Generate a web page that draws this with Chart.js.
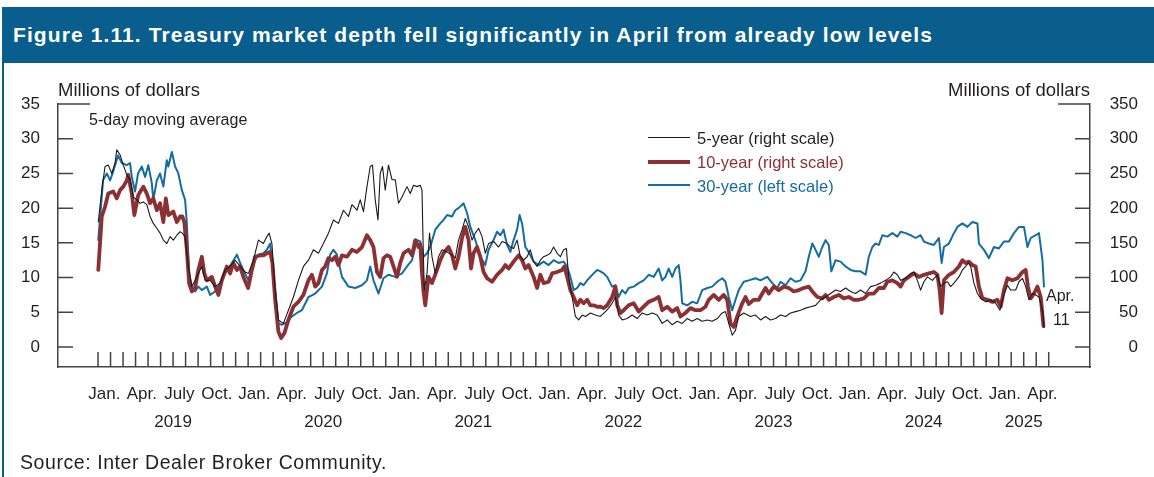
<!DOCTYPE html>
<html><head><meta charset="utf-8">
<script src="https://cdn.jsdelivr.net/npm/chart.js@4.4.1/dist/chart.umd.min.js"></script>
<style>
html,body{margin:0;padding:0;background:#fff;}
#wrap{position:relative;width:1154px;height:477px;overflow:hidden;background:#fff;font-family:"Liberation Sans",Arial,sans-serif;color:#231f20;}
#chart{position:absolute;left:0;top:0;}
#frame{position:absolute;left:2px;top:7px;width:2px;height:470px;background:#0a5e8e;}
#title{position:absolute;left:3px;top:7px;width:1151px;height:56px;background:#0a5e8e;color:#fff;font-weight:bold;font-size:21px;line-height:56px;white-space:nowrap;}
#title span{position:absolute;left:10px;}
.t{position:absolute;white-space:nowrap;line-height:20px;font-size:17px;}
.leg{position:absolute;left:648px;width:42px;}
#source{position:absolute;left:20px;top:451px;font-size:19.5px;line-height:22px;white-space:nowrap;}
</style></head>
<body>
<div id="wrap">
<canvas id="chart" width="1154" height="477"></canvas>
<div id="frame"></div>
<div id="title"><span id="titleText">Figure 1.11. Treasury market depth fell significantly in April from already low levels</span></div>
<div class="t" id="unitL" style="left:58px;top:80px;font-size:18.5px;">Millions of dollars</div>
<div class="t" id="unitR" style="right:64px;top:80px;font-size:18.5px;">Millions of dollars</div>
<div class="t" style="left:89px;top:110px;font-size:16px;">5-day moving average</div>
<div class="leg" style="top:137px;border-top:1.2px solid #1a1a1a;"></div>
<div class="leg" style="top:160px;border-top:4px solid #8c3034;"></div>
<div class="leg" style="top:184px;border-top:2px solid #146ca0;"></div>
<div class="t" style="left:697px;top:128px;font-size:16.5px;color:#231f20;">5-year (right scale)</div>
<div class="t" style="left:697px;top:152px;font-size:16.5px;color:#8c3034;">10-year (right scale)</div>
<div class="t" style="left:697px;top:175.5px;font-size:16.5px;color:#146ca0;">30-year (left scale)</div>
<div class="t" style="left:1046px;top:286px;font-size:16px;">Apr.</div>
<div class="t" style="left:1053px;top:309.5px;font-size:16px;">11</div>
<div id="source"><span id="sourceText">Source: Inter Dealer Broker Community.</span></div>
</div>
<script>
// x values: months since 1 Jan 2019
const quarterLabels = ['Jan.','Apr.','July','Oct.'];
const quarterPositions = [0.5,3.5,6.5,9.5,12.5,15.5,18.5,21.5,24.5,27.5,30.5,33.5,36.5,39.5,42.5,45.5,48.5,51.5,54.5,57.5,60.5,63.5,66.5,69.5,72.5,75.5];
const yearLabels = ['2019','2020','2021','2022','2023','2024','2025'];
const yearPositions = [6,18,30,42,54,66,74];
const monthTicks = [0,1,2,3,4,5,6,7,8,9,10,11,12,13,14,15,16,17,18,19,20,21,22,23,24,25,26,27,28,29,30,31,32,33,34,35,36,37,38,39,40,41,42,43,44,45,46,47,48,49,50,51,52,53,54,55,56,57,58,59,60,61,62,63,64,65,66,67,68,69,70,71,72,73,74,75,76];
const leftTicks = [0,5,10,15,20,25,30,35];
const rightTicks = [0,50,100,150,200,250,300,350];

// 30-year, left scale (millions of dollars)
const depth30y = [[0.02,15.4],[0.4,24.0],[0.7,25],[0.96,24],[1.2,25.2],[1.6,27.6],[1.9,26.5],[2.3,26.2],[2.56,26.5],[2.7,24.5],[2.96,22.4],[3.2,25],[3.5,26],[3.76,24.5],[4.02,26.2],[4.3,23.6],[4.42,21.2],[4.7,24],[4.96,25],[5.22,23.1],[5.5,26.9],[5.62,26],[5.9,28.1],[6.16,26],[6.42,25],[6.7,22.6],[6.96,21.2],[7.1,17.9],[7.28,10.6],[7.5,8.7],[7.76,8.0],[8.02,8.7],[8.3,8.2],[8.7,8.7],[8.96,7.5],[9.36,8.0],[9.76,9.2],[10.16,10.6],[10.7,12.1],[11.1,13.3],[11.36,12.1],[11.62,11.1],[12.02,9.6],[12.42,12.1],[12.82,13.3],[13.22,13.5],[13.5,14],[13.76,14.9],[13.9,12.5],[14.16,8.2],[14.42,3.4],[14.7,3.2],[15.1,3.6],[15.5,4.4],[15.9,4.9],[16.3,5.3],[16.82,7.2],[17.36,7.7],[17.9,8.7],[18.3,10.6],[18.56,13.3],[18.82,14],[19.1,13.3],[19.5,10.1],[20.02,8.7],[20.56,8.5],[21.1,8.9],[21.5,9.6],[21.76,11.6],[22.02,9.6],[22.42,7.7],[22.82,9.9],[23.22,10.4],[23.76,10.1],[24.3,10.6],[24.7,11.6],[25.1,12.5],[25.5,15.4],[25.76,15.2],[26.02,13],[26.3,13.5],[26.56,14.4],[26.96,16.9],[27.36,17.8],[27.62,18.3],[27.9,19],[28.3,18.8],[28.56,19.7],[28.82,20],[29.1,20.5],[29.22,20.7],[29.5,19.3],[29.76,17.3],[30.16,15.4],[30.56,13],[30.96,11.8],[31.22,14],[31.62,15.4],[31.9,16.6],[32.16,16.1],[32.42,16.9],[32.7,14.7],[32.96,13.7],[33.22,15.4],[33.5,16.9],[33.7,19],[33.9,17.8],[34.16,14.4],[34.42,13.7],[34.82,12.3],[35.22,11.8],[35.62,12.3],[36.02,11.8],[36.42,12.5],[36.82,12.1],[37.22,12.3],[37.5,11.6],[37.76,10.1],[38.02,8.2],[38.3,8.5],[38.56,9.2],[38.82,8.9],[39.1,9.6],[39.36,10.1],[39.62,10.6],[39.9,11.1],[40.16,10.9],[40.42,10.6],[40.7,10.1],[41.1,8.7],[41.36,8.9],[41.62,7.2],[41.9,8.2],[42.16,7.7],[42.42,8.5],[42.82,8.7],[43.22,9.2],[43.62,9.6],[44.02,10.4],[44.42,10.1],[44.82,11.3],[45.1,9.6],[45.36,10.1],[45.62,11.3],[45.9,10.1],[46.16,11.3],[46.42,11.8],[46.56,9.6],[46.7,6.3],[47.1,6.0],[47.5,6.5],[47.9,6.3],[48.3,8.2],[48.7,8.5],[49.1,8.7],[49.5,9.4],[49.9,9.9],[50.16,9.4],[50.42,7.2],[50.7,5.3],[50.96,6.8],[51.22,8.2],[51.62,9.4],[52.02,9.6],[52.56,9.9],[52.96,9.6],[53.5,10.1],[53.9,9.2],[54.3,8.5],[54.56,9.4],[54.96,8.9],[55.36,9.9],[55.76,9.4],[56.16,9.6],[56.56,10.9],[56.82,13],[57.1,14.9],[57.36,14],[57.62,13],[57.9,14.4],[58.16,15.4],[58.42,14.7],[58.62,10.9],[58.96,12.5],[59.36,12.3],[59.76,11.6],[60.16,11.1],[60.56,10.9],[60.96,10.9],[61.36,10.4],[61.62,13],[61.9,14.4],[62.16,14.9],[62.42,14.7],[62.7,16.1],[63.1,15.9],[63.5,16.4],[63.9,15.9],[64.16,16.6],[64.56,16.4],[64.96,16.1],[65.36,15.7],[65.76,16.1],[66.02,15.2],[66.42,14.9],[66.82,14.7],[67.22,15.7],[67.44,12.1],[67.62,14.4],[68.02,14.9],[68.42,16.4],[68.7,17.3],[69.1,17.8],[69.5,17.3],[69.9,18.0],[70.3,17.8],[70.42,14.9],[70.82,14],[71.22,12.8],[71.62,14.4],[72.02,14.2],[72.42,15.2],[72.82,15.2],[73.22,16.4],[73.62,17.3],[74.02,17.3],[74.3,14.4],[74.56,15.7],[74.96,16.1],[75.22,16.4],[75.5,12.5],[75.62,8.7]];

// 10-year, right scale (millions of dollars)
const depth10y = [[0.02,111],[0.3,188],[0.56,202],[0.82,221],[1.22,224],[1.5,214],[1.76,226],[2.02,231],[2.3,240],[2.42,248],[2.7,221],[2.9,190],[3.22,219],[3.62,231],[3.9,221],[4.16,207],[4.42,214],[4.7,197],[4.96,207],[5.22,180],[5.42,214],[5.62,190],[6.02,195],[6.3,180],[6.56,188],[6.74,188],[6.9,180],[7.1,140],[7.28,92],[7.5,80],[7.76,85],[8.02,111],[8.3,130],[8.5,106],[8.7,96],[9.1,101],[9.36,87],[9.62,75],[9.9,96],[10.3,116],[10.56,106],[10.82,121],[11.1,111],[11.36,116],[11.62,101],[12.0,85],[12.3,111],[12.56,130],[12.96,132],[13.22,132],[13.5,135],[13.76,137],[13.94,121],[14.16,68],[14.42,22],[14.64,13],[14.9,20],[15.22,39],[15.62,58],[16.02,65],[16.42,75],[16.82,96],[17.1,104],[17.36,87],[17.62,92],[17.9,111],[18.16,116],[18.42,128],[18.7,125],[18.96,130],[19.22,118],[19.5,132],[19.9,130],[20.3,140],[20.7,137],[21.1,144],[21.5,161],[21.76,154],[22.02,144],[22.3,108],[22.56,101],[22.82,128],[23.1,132],[23.36,130],[23.62,116],[23.9,101],[24.16,121],[24.42,135],[24.82,140],[25.1,132],[25.36,154],[25.62,144],[25.76,148],[25.9,106],[26.02,80],[26.16,60],[26.42,101],[26.7,92],[27.1,111],[27.36,125],[27.62,135],[28.02,144],[28.3,132],[28.56,113],[28.82,130],[29.1,157],[29.36,173],[29.62,154],[29.82,113],[30.02,135],[30.3,144],[30.56,130],[30.82,108],[31.1,99],[31.5,94],[31.9,104],[32.3,111],[32.56,118],[32.82,113],[33.22,123],[33.62,132],[33.9,125],[34.16,113],[34.42,118],[34.82,101],[35.1,85],[35.36,104],[35.62,92],[36.02,94],[36.3,106],[36.7,108],[37.1,111],[37.28,116],[37.5,101],[37.76,82],[38.02,72],[38.3,60],[38.56,68],[38.82,63],[39.1,68],[39.36,60],[39.62,60],[39.9,58],[40.16,58],[40.42,56],[40.7,60],[41.1,72],[41.36,87],[41.5,60],[41.76,49],[42.02,53],[42.42,60],[42.82,63],[43.22,51],[43.62,58],[44.02,65],[44.42,68],[44.82,72],[45.1,53],[45.5,58],[45.9,51],[46.3,56],[46.56,44],[46.96,49],[47.36,56],[47.76,53],[48.16,53],[48.56,58],[48.82,68],[49.22,75],[49.62,68],[50.02,75],[50.3,68],[50.56,34],[50.82,29],[51.1,44],[51.5,63],[51.76,72],[52.02,62],[52.42,68],[52.82,68],[53.1,77],[53.36,85],[53.62,77],[54.02,87],[54.42,82],[54.82,87],[55.22,85],[55.62,80],[56.02,82],[56.42,85],[56.82,87],[57.1,80],[57.5,72],[57.9,70],[58.16,75],[58.42,68],[58.82,72],[59.22,75],[59.62,70],[60.02,72],[60.42,68],[60.82,68],[61.22,70],[61.62,77],[62.02,77],[62.42,85],[62.82,85],[63.1,94],[63.5,96],[63.9,92],[64.16,87],[64.42,96],[64.82,101],[65.22,106],[65.62,101],[66.02,104],[66.42,106],[66.82,108],[67.1,104],[67.28,82],[67.44,49],[67.62,96],[68.02,104],[68.42,108],[68.82,116],[69.1,125],[69.36,121],[69.62,123],[69.9,118],[70.16,116],[70.42,87],[70.7,70],[71.1,68],[71.5,65],[71.9,68],[72.16,58],[72.42,82],[72.7,99],[73.1,96],[73.5,99],[73.9,108],[74.16,111],[74.34,87],[74.56,70],[74.82,77],[75.1,87],[75.36,72],[75.58,30]];

// 5-year, right scale (millions of dollars)
const depth5y = [[0.02,180],[0.3,226],[0.56,260],[0.82,262],[1.1,250],[1.36,265],[1.5,284],[1.76,277],[2.02,262],[2.3,248],[2.56,241],[2.82,216],[3.1,212],[3.36,207],[3.62,209],[3.9,205],[4.16,188],[4.42,178],[4.7,171],[4.96,164],[5.22,154],[5.5,149],[5.76,159],[6.02,154],[6.3,161],[6.56,166],[6.74,164],[6.96,159],[7.22,116],[7.5,87],[7.76,96],[8.02,106],[8.3,116],[8.56,96],[8.96,96],[9.36,87],[9.76,92],[10.16,111],[10.56,116],[10.96,125],[11.36,116],[11.76,108],[12.02,106],[12.42,125],[12.82,154],[13.22,149],[13.5,159],[13.68,164],[13.9,149],[14.16,82],[14.42,39],[14.82,34],[15.22,53],[15.62,72],[16.02,96],[16.42,116],[16.82,125],[17.22,140],[17.62,135],[18.02,149],[18.42,164],[18.82,183],[19.22,178],[19.62,197],[20.02,188],[20.3,205],[20.7,197],[20.96,212],[21.22,195],[21.5,231],[21.76,260],[21.94,262],[22.16,212],[22.38,183],[22.56,250],[22.74,260],[22.96,226],[23.22,262],[23.5,241],[23.76,241],[24.02,207],[24.3,216],[24.7,231],[24.96,221],[25.22,233],[25.5,231],[25.76,233],[25.9,226],[25.98,154],[26.08,82],[26.3,106],[26.5,164],[26.7,130],[26.96,106],[27.22,130],[27.5,140],[27.9,137],[28.3,132],[28.56,128],[28.82,154],[29.1,169],[29.36,185],[29.62,173],[29.9,154],[30.16,164],[30.42,171],[30.7,159],[30.96,135],[31.22,149],[31.62,152],[32.02,144],[32.3,152],[32.7,149],[32.96,144],[33.22,142],[33.5,154],[33.76,130],[34.02,125],[34.3,130],[34.56,140],[34.82,123],[35.1,116],[35.36,125],[35.62,130],[35.9,132],[36.16,135],[36.42,144],[36.7,135],[36.96,130],[37.22,140],[37.44,142],[37.62,101],[37.9,72],[38.16,44],[38.42,39],[38.7,46],[38.96,44],[39.36,49],[39.76,46],[40.16,44],[40.56,51],[40.82,56],[41.1,63],[41.36,72],[41.62,46],[41.9,39],[42.3,41],[42.7,46],[43.1,41],[43.5,49],[43.9,46],[44.3,49],[44.7,46],[45.1,34],[45.5,39],[45.9,32],[46.3,37],[46.7,34],[47.1,41],[47.5,37],[47.9,41],[48.3,37],[48.7,39],[49.1,37],[49.5,41],[49.9,49],[50.16,51],[50.42,34],[50.7,17],[50.96,24],[51.22,44],[51.62,49],[52.16,44],[52.56,46],[52.96,39],[53.36,44],[53.76,39],[54.16,41],[54.56,46],[54.96,44],[55.36,49],[55.76,51],[56.16,53],[56.56,56],[56.96,58],[57.36,60],[57.76,68],[58.16,72],[58.56,77],[58.96,82],[59.36,80],[59.76,85],[60.16,80],[60.56,77],[60.96,82],[61.36,77],[61.76,87],[62.16,89],[62.56,92],[62.96,96],[63.36,101],[63.62,108],[63.9,104],[64.16,96],[64.56,99],[64.96,106],[65.22,108],[65.5,96],[65.76,82],[66.02,94],[66.3,101],[66.7,96],[67.1,104],[67.36,87],[67.62,92],[67.9,94],[68.16,87],[68.42,92],[68.82,101],[69.1,111],[69.36,116],[69.58,121],[69.76,116],[70.02,92],[70.3,77],[70.56,70],[70.96,65],[71.36,68],[71.76,63],[72.1,53],[72.42,75],[72.7,89],[72.96,82],[73.36,82],[73.62,94],[73.9,99],[74.16,87],[74.42,68],[74.7,77],[74.96,75],[75.22,72],[75.5,53],[75.62,28]];

const COL_BLUE = '#146ca0', COL_RED = '#8c3034', COL_BLACK = '#1a1a1a', AXIS = '#444';
const tickFont = {family:'"Liberation Sans", Arial, sans-serif', size:17};
const toPts = arr => arr.map(p => ({x:p[0], y:p[1]}));

const inwardTicks = {
  id:'inwardTicks',
  beforeDatasetsDraw(chart){
    const {ctx, chartArea:a, scales} = chart;
    ctx.save();
    ctx.strokeStyle = AXIS; ctx.lineWidth = 1.5;
    ctx.beginPath();
    monthTicks.forEach(m => { const px = scales.x.getPixelForValue(m); ctx.moveTo(px, a.bottom); ctx.lineTo(px, a.bottom - 15); });
    leftTicks.forEach(v => { const py = scales.y.getPixelForValue(v); const len = v === 35 ? 32 : 15; ctx.moveTo(a.left, py); ctx.lineTo(a.left + len, py); });
    rightTicks.forEach(v => { const py = scales.y2.getPixelForValue(v); const len = v === 350 ? 32 : 15; ctx.moveTo(a.right, py); ctx.lineTo(a.right - len, py); });
    ctx.stroke();
    ctx.restore();
  }
};

new Chart(document.getElementById('chart'), {
  type:'line',
  data:{datasets:[
    {label:'5-year (right scale)', data:toPts(depth5y), yAxisID:'y2', borderColor:COL_BLACK, borderWidth:1.1},
    {label:'10-year (right scale)', data:toPts(depth10y), yAxisID:'y2', borderColor:COL_RED, borderWidth:3.8},
    {label:'30-year (left scale)', data:toPts(depth30y), yAxisID:'y', borderColor:COL_BLUE, borderWidth:2}
  ]},
  options:{
    responsive:false, animation:false, devicePixelRatio:1,
    elements:{point:{radius:0}, line:{tension:0, borderJoinStyle:'round', borderCapStyle:'round'}},
    layout:{padding:{top:104, left:0, right:16, bottom:40}},
    plugins:{legend:{display:false}, tooltip:{enabled:false}},
    scales:{
      x:{type:'linear', position:'bottom', min:-3.2, max:79.3, weight:0,
        grid:{display:false, drawTicks:false}, border:{display:true, color:AXIS, width:1.5},
        ticks:{autoSkip:false, maxRotation:0, padding:17, font:tickFont, color:'#231f20',
          callback:(v,i)=>quarterLabels[i%4]},
        afterBuildTicks:s=>{s.ticks = quarterPositions.map(v=>({value:v}));},
        afterFit:s=>{s.height = 40;}},
      xYear:{type:'linear', position:'bottom', min:-3.2, max:79.3, weight:1,
        grid:{display:false, drawTicks:false}, border:{display:false},
        ticks:{autoSkip:false, maxRotation:0, padding:5, font:tickFont, color:'#231f20',
          callback:(v,i)=>yearLabels[i]},
        afterBuildTicks:s=>{s.ticks = yearPositions.map(v=>({value:v}));},
        afterFit:s=>{s.height = 30;}},
      y:{type:'linear', position:'left', min:-2.88, max:35,
        grid:{display:false, drawTicks:false}, border:{display:true, color:AXIS, width:1.5},
        ticks:{padding:18, font:tickFont, color:'#231f20'},
        afterBuildTicks:s=>{s.ticks = leftTicks.map(v=>({value:v}));},
        afterFit:s=>{s.width = 58;}},
      y2:{type:'linear', position:'right', min:-28.8, max:350,
        grid:{display:false, drawTicks:false}, border:{display:true, color:AXIS, width:1.5},
        ticks:{padding:18, font:tickFont, color:'#231f20', crossAlign:'far'},
        afterBuildTicks:s=>{s.ticks = rightTicks.map(v=>({value:v}));},
        afterFit:s=>{s.width = 48;}}
    }
  },
  plugins:[inwardTicks]
});

// fit title and source text widths to the reference layout
function fitWidth(id, target){
  const el = document.getElementById(id);
  const n = el.textContent.length;
  const w = el.getBoundingClientRect().width;
  el.style.letterSpacing = ((target - w) / n).toFixed(3) + 'px';
}
fitWidth('titleText', 920);
fitWidth('sourceText', 367);
</script>
</body></html>
